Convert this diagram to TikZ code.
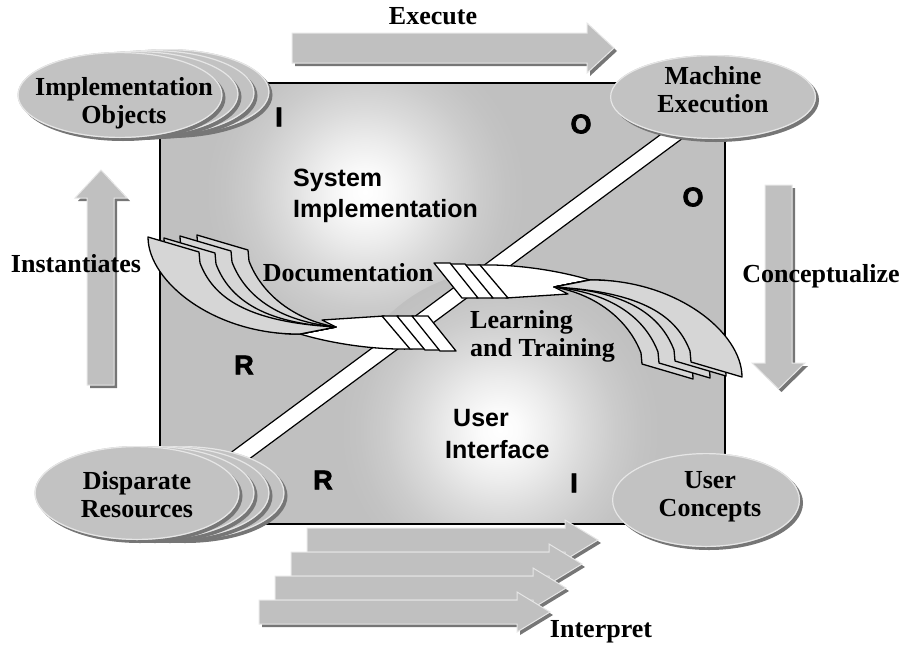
\documentclass[tikz,border=0pt]{standalone}
\usepackage{fontspec}
\setmainfont{Liberation Serif}
\newfontfamily\arialfont{Liberation Sans}
\newfontfamily\heavyfont{Liberation Sans}[BoldFeatures={FakeBold=2.5}]

\definecolor{sqgray}{RGB}{192,192,192}
\definecolor{ellgray}{RGB}{194,194,194}
\definecolor{shadowgray}{RGB}{118,118,118}
\definecolor{rimlight}{RGB}{230,230,230}
\definecolor{fangray}{RGB}{214,214,214}

% soft white highlight; 25bp corresponds to the radius of the shaded circle
\pgfdeclareradialshading{glow}{\pgfpoint{0bp}{0bp}}{%
  color(0bp)=(white); color(3bp)=(white!94!sqgray); color(8bp)=(white!70!sqgray);
  color(13bp)=(white!42!sqgray); color(18bp)=(white!18!sqgray); color(22bp)=(white!5!sqgray);
  color(25bp)=(sqgray); color(50bp)=(sqgray)}

\tikzset{
  serifl/.style={font=\fontsize{26}{28}\selectfont\bfseries, align=center, inner sep=0pt},
  sansl/.style={font=\arialfont\fontsize{25}{31}\selectfont\bfseries, align=left, inner sep=0pt, anchor=west},
  cornerl/.style={font=\heavyfont\fontsize{27}{27}\selectfont\bfseries, inner sep=0pt},
  ribbonedge/.style={draw=black, line width=1.3pt, line join=round},
}

% block shape with a drop shadow and a light rim
\newcommand\shadowshape[1]{%
  \fill[shadowgray, shift={(3,3)}] #1;
  \fill[sqgray] #1;
  \draw[rimlight, line width=1pt] #1;
}

% grey ellipse with drop shadow: centre x, centre y, x radius, y radius
\newcommand\bubble[4]{%
  \fill[shadowgray] (#1+3,#2+3) ellipse [x radius=#3pt, y radius=#4pt];
  \fill[ellgray] (#1,#2) ellipse [x radius=#3pt, y radius=#4pt];
  \draw[rimlight, line width=1.2pt] (#1,#2) ellipse [x radius=#3pt-0.6pt, y radius=#4pt-0.6pt];
}

% one half of the twisted ribbon: white band, fan of sheets, folds
\newcommand\ribbonhalf{%
  \filldraw[fill=white, ribbonedge] (336,327) -- (322,320) -- (384,316) -- (412,349)
     .. controls (372,350) and (330,343) .. (300,334) -- cycle;
  \foreach \tx/\ty in {197/235, 180/236, 164/238, 148/237} {
    \filldraw[fill=fangray, ribbonedge] (\tx,\ty) -- (\tx+51,\ty+15) -- (\tx+52,\ty+26)
       .. controls (\tx+65,\ty+60) and (\tx+98,\ty+85) .. (336,327)
       -- (300,334) .. controls (\tx+67,\ty+98) and (\tx,\ty+45) .. cycle;
  }
  \foreach \i in {0,1,2} {
    \filldraw[fill=white, ribbonedge] (382+15*\i,316) -- (398+15*\i,316)
       -- (426+15*\i,349+\i) -- (410+15*\i,349+\i) -- cycle;
  }
}

\begin{document}
\begin{tikzpicture}[x=1pt, y=-1pt]
\useasboundingbox (0,0) rectangle (904,648);

% central square with two soft highlights
\fill[sqgray] (160,83) rectangle (725,524);
\begin{scope}
  \clip (160,83) rectangle (725,524);
  \shade[shading=glow] (365,192) circle (160pt);
  \shade[shading=glow] (500,430) circle (160pt);
\end{scope}
\draw[line width=1.5pt] (160,83) rectangle (725,524);

% diagonal white band
\fill[white] (205,471.7) -- (705,101.7) -- (705,121.7) -- (205,491.7) -- cycle;
\draw[line width=1.2pt] (205,471.7) -- (705,101.7);
\draw[line width=1.2pt] (205,491.7) -- (705,121.7);

% twisted ribbon
\ribbonhalf
\begin{scope}[rotate around={180:(445,307)}]
  \ribbonhalf
\end{scope}

% texts inside the square
\node[sansl] (sysimpl) at (293,196) {System\\Implementation};
\node[sansl] (userif1) at (453,418) {User};
\node[sansl] (userif2) at (445,450) {Interface};
\node[serifl] (docu) at (348,273) {Documentation};
\node[serifl, align=left, anchor=west] (learn) at (470,336) {Learning\\and Training};

\node[cornerl] (ci1) at (279,117) {I};
\node[cornerl] (co1) at (581,124) {O};
\node[cornerl] (co2) at (693,197) {O};
\node[cornerl] (cr1) at (244,365) {R};
\node[cornerl] (cr2) at (323,480) {R};
\node[cornerl] (ci2) at (574,483) {I};

% block arrows
\shadowshape{(292,33) -- (587,33) -- (587,23) -- (614,48) -- (587,73) -- (587,63) -- (292,63) -- cycle}
\shadowshape{(87,385) -- (87,198) -- (75,198) -- (101,170) -- (127,198) -- (114,198) -- (114,385) -- cycle}
\shadowshape{(765,185) -- (792,185) -- (792,363) -- (805,363) -- (778.5,389) -- (752,363) -- (765,363) -- cycle}
\shadowshape{(307,528) -- (565,528) -- (565,520) -- (598,540) -- (565,560) -- (565,552) -- (307,552) -- cycle}
\shadowshape{(291,552) -- (549,552) -- (549,544) -- (582,564) -- (549,584) -- (549,576) -- (291,576) -- cycle}
\shadowshape{(275,576) -- (533,576) -- (533,568) -- (566,588) -- (533,608) -- (533,600) -- (275,600) -- cycle}
\shadowshape{(259,600) -- (517,600) -- (517,592) -- (550,612) -- (517,632) -- (517,624) -- (259,624) -- cycle}

% ellipses
\bubble{167}{92}{102.5}{43}
\bubble{152}{93}{102.5}{43}
\bubble{136}{94}{102.5}{43}
\bubble{120}{95}{102.5}{43}
\bubble{713}{97}{103}{42}
\bubble{182}{493}{102.5}{47}
\bubble{167}{493}{102.5}{47}
\bubble{152}{493}{102.5}{47}
\bubble{137}{493}{102.5}{47}
\bubble{706}{500}{94}{47}

\node[serifl] (implobj) at (124,103) {Implementation\\Objects};
\node[serifl] (machexe) at (713,90) {Machine\\Execution};
\node[serifl] (disres) at (137,495) {Disparate\\Resources};
\node[serifl] (usercon) at (710,497) {User\\Concepts};

% arrow labels
\node[serifl] (execute) at (433,16) {Execute};
\node[serifl] (instant) at (76,264) {Instantiates};
\node[serifl] (concept) at (821,276) {Conceptualize};
\node[serifl] (interp) at (601,632) {Interpret};
\end{tikzpicture}
\end{document}
